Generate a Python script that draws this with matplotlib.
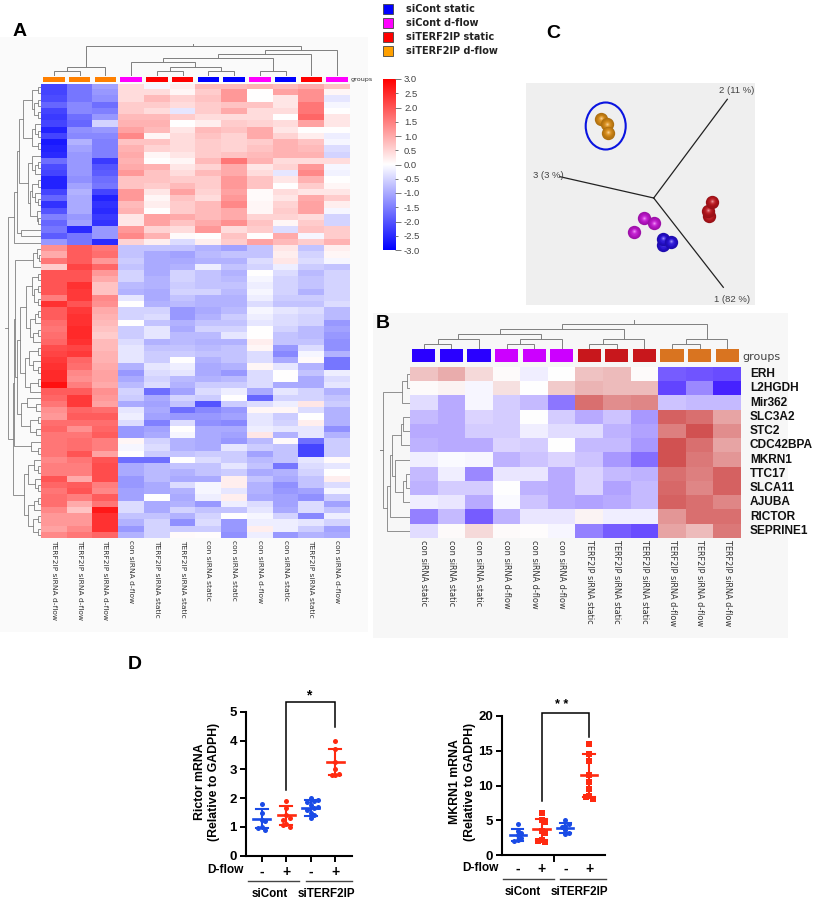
import matplotlib
matplotlib.use("Agg")
import matplotlib.pyplot as plt
import numpy as np
from matplotlib.colors import LinearSegmentedColormap, to_rgb
from matplotlib.patches import Rectangle, Ellipse

plt.rcParams['font.family'] = ['Liberation Sans', 'DejaVu Sans']

# ---------- data ----------
legend_labels = ["siCont static", "siCont d-flow", "siTERF2IP static", "siTERF2IP d-flow"]
legend_colors = ["#0000ff", "#ff00ff", "#ff0000", "#ffa000"]

a_groups = ["o", "o", "o", "m", "r", "r", "b", "b", "m", "b", "r", "m"]
a_labels = ["TERF2IP siRNA d-flow"] * 3 + ["con siRNA d-flow"] + ["TERF2IP siRNA static"] * 2 + \
           ["con siRNA static"] * 2 + ["con siRNA d-flow", "con siRNA static", "TERF2IP siRNA static", "con siRNA d-flow"]
a_matrix = [
 [-2.2,-1.6,-1.1,.4,-.1,.2,.8,.8,.9,.8,1.0,.7],
 [-2.2,-1.6,-1.2,.4,.4,.1,.6,1.2,.0,1.1,1.3,.1],
 [-2.1,-1.6,-1.3,.4,.8,.5,.7,1.2,0,.3,1.3,-.3],
 [-1.8,-1.4,-1.7,.6,.6,.4,.6,.7,.7,.3,1.6,-.1],
 [-2.2,-1.4,-1.5,.6,.4,-.3,.6,1.0,.4,.4,1.6,0],
 [-2.3,-1.7,-1.2,.8,.8,.6,.4,.4,.4,.0,1.8,.3],
 [-2.2,-1.8,-.5,.9,.9,.0,.2,.6,.5,.4,1.1,.3],
 [-2.6,-1.3,-1.2,1.1,.8,.3,.8,.7,1.0,.3,0,.0],
 [-2.2,-1.4,-1.4,1.4,.1,.4,.7,.5,1.0,.5,.2,-.2],
 [-2.7,-.9,-1.5,.7,.7,.4,.6,.5,.6,.9,.7,-.1],
 [-2.6,-1.1,-1.5,.9,.5,.4,.6,.5,.7,.9,.8,-.4],
 [-2.5,-1.2,-1.5,1.0,.1,.3,.6,.7,.8,.9,.9,-.5],
 [-1.7,-1.2,-2.3,.9,0,.1,.8,1.6,.9,.4,.4,.4],
 [-2.1,-1.2,-2.0,1.0,.9,.3,.5,1.0,.3,.5,1.2,-.1],
 [-2.2,-1.2,-1.9,1.2,.7,.4,.8,1.0,.4,-.3,1.4,-.15],
 [-2.6,-1.3,-1.7,.7,.7,.6,.6,1.2,.7,.3,.9,0],
 [-2.6,-1.1,-1.6,.7,.6,.8,.6,1.2,.7,0,.6,.1],
 [-2.2,-.9,-2.2,1.2,.3,1.1,.5,1.1,.05,.4,.3,.3],
 [-1.8,-1,-2.6,1.2,.1,.7,.4,1.2,.05,.3,1,.6],
 [-2.4,-1,-2.4,.8,.2,.6,.8,1.4,.1,.5,1.1,.2],
 [-2.0,-1,-2.5,.9,0,.6,.8,1.0,.1,.6,1.1,-.1],
 [-1.5,-1.2,-2.3,.3,1.1,1,.8,1,.5,.5,.4,-.5],
 [-1.8,-1.1,-2.4,.3,1.1,.7,1.0,1.3,.7,.1,.6,-.5],
 [-1.6,-2.5,-1.2,1.2,.5,.4,1.2,.4,.6,-.4,.7,.6],
 [-1.9,-1.6,-1.2,1.4,.9,.05,.0,.7,0,1,-.1,.6],
 [-1.2,-1.6,-2.5,.5,.2,-.4,.2,.6,1.1,.8,.6,.9],
 [1.3,1.9,1.6,-.7,-.7,-.7,-.9,-1.1,-.7,.3,-.7,.2],
 [1.0,1.9,1.7,-.7,-1,-1.1,-.8,-.7,-.7,.2,-.5,.1],
 [1.6,1.9,1.2,-.6,-1,-1,-.9,-.9,-.4,.3,-.4,-.1],
 [.6,2.2,1.8,-.7,-1,-.9,-.2,-.7,-.5,-.2,-.6,-.7],
 [2.0,2.0,1.2,-.5,-1,-.5,-.7,-.9,0,-.4,-.8,-.5],
 [2.0,2.0,1.0,-.5,-.9,-.5,-.7,-.8,-.1,-.5,-.7,-.5],
 [2.0,2.4,.7,-.8,-.9,-.6,-.7,-.7,-.2,-.5,-.7,-.5],
 [2.0,2.3,.7,-.9,-1,-.5,-.5,-.8,-.1,-.5,-.9,-.5],
 [1.5,2.3,1.4,-.3,-1,-.7,-.9,-.9,-.2,-.6,-.6,-.5],
 [2.4,2.0,1.3,0,-.9,-.8,-.9,-.9,-.4,-.7,-.7,-.4],
 [1.9,2.3,1.0,-.5,-.5,-1.2,-1.0,-.8,-.1,-.3,-.4,-.8],
 [1.9,2.4,.9,-.5,-.4,-1.2,-.9,-.6,-.2,-.4,-.5,-.8],
 [1.7,2.4,.8,0,-.7,-.9,-.7,-.7,-.3,-.4,-.5,-1.2],
 [1.6,2.5,.7,-.6,-.3,-1.0,-.5,-.5,0,-.5,-.8,-1.1],
 [1.7,2.5,.6,-.6,-.3,-.8,-.8,-.3,0,-.7,-.8,-1.2],
 [1.8,2.4,.8,-.4,-.9,-.8,-.9,-.9,.2,-.7,-.7,-1.3],
 [2.1,2.2,.8,-.3,-.7,-.7,-.8,-.7,.1,-1.2,-.4,-1.3],
 [2.2,2.3,.9,-.3,-.6,-.6,-.7,-.7,-.4,-1.4,-.1,-.9],
 [2.3,1.8,.9,-.3,-.6,0,-.9,-.7,-.4,-1.0,.05,-1.6],
 [2.4,1.7,1.0,-.9,-.3,-.2,-1,-.9,.1,-.3,-.9,-1.6],
 [2.5,1.4,1.1,-1.2,-.4,-.3,-1,-1.2,-.4,0,-.7,-.2],
 [2.5,1.3,1.1,-1,-.5,-.8,-.9,-.8,-.4,0,-1,-.4],
 [2.8,1.5,1.0,-.8,-.4,-.9,-.6,-.6,-.4,-1,-1,-.3],
 [1.9,1.9,1.3,-.5,-1.7,-1.1,-.4,-.2,-1,-.3,-.5,-.9],
 [1.8,2.3,1.2,-.6,-1,-.5,-.6,0,-1.8,-.5,-.5,-.7],
 [1.6,2.3,1.1,-1,-1.1,-.7,-2,-.6,-.4,-.2,.3,-.6],
 [1.3,1.8,1.7,-.3,-1,-1.7,-1.4,-1.2,.1,.1,-.4,-.9],
 [1.2,1.9,1.9,-.2,-1.1,-1.2,-1.2,-1.1,-.3,-.6,0,-.9],
 [1.7,1.7,1.7,-.4,-1.5,-.4,-1.3,-1.4,-.3,-.5,.2,-.9],
 [1.8,1.3,1.8,-1.2,-1.1,0,-1,-1,-.2,-.3,-.3,-1.3],
 [1.6,1.6,1.9,-1.2,-1,-.1,-1,-1.1,.3,-.9,-.3,-.9],
 [1.6,1.7,1.5,.1,-.5,-.9,-1,-1.2,-.8,.05,-1.7,-.6],
 [1.6,1.7,1.5,-.1,-.4,-.9,-1,-.3,-.6,-.7,-2.2,-.6],
 [1.6,2.0,1.1,0,-.6,-.7,-.6,-.6,-1.1,-.7,-2.2,-.6],
 [1.4,1.6,2.0,-1.7,-1.7,0,-.4,-.6,-.8,-.7,-.3,.05],
 [1.5,1.5,2.1,-1,-.8,-.7,-.7,-.3,-.7,-1.6,-.4,-.3],
 [1.5,1.5,2.1,-1,-.8,-.9,-.7,-.6,-1,-.9,-.5,0],
 [2.0,1.0,2.1,-1.2,-.8,-1,-1,.2,-.7,-1,-.7,.2],
 [1.8,1.9,1.5,-1.2,-1,-.4,-.1,.2,-.9,-1.3,-.7,-.4],
 [1.6,2.0,1.4,-1.1,-1,-.9,-.1,-.3,-.9,-1.2,-1.1,-.1],
 [1.7,1.5,1.9,-1.1,0,-1,-.2,.2,-1,-1.1,-1.3,-.6],
 [1.7,1.0,1.6,-.4,-1,-.9,-1.2,-.2,-.4,-1.1,-.4,-1.1],
 [1.4,.7,2.7,-.4,-1,-.5,-.7,-.7,-.3,-1,-.4,-.7],
 [1.2,1.2,2.4,-.7,-.7,-.9,-.5,0,-.1,-.5,-1.4,-.2],
 [1.2,1.2,2.4,-.9,-.5,-1.3,-.4,-1.2,-.2,-.2,-.3,-.5],
 [1.1,1.4,2.4,-1.2,-.5,-.6,-.6,-1.2,.2,-.2,-.6,-1.1],
 [1.4,1.6,1.8,-.9,-.5,.05,.03,-1.3,-.2,-1.2,-.9,-1],
]

b_genes = ["ERH", "L2HGDH", "Mir362", "SLC3A2", "STC2", "CDC42BPA", "MKRN1", "TTC17", "SLCA11", "AJUBA", "RICTOR", "SEPRINE1"]
b_groups = ["b"] * 3 + ["m"] * 3 + ["r"] * 3 + ["o"] * 3
b_labels = ["con siRNA static"] * 3 + ["con siRNA d-flow"] * 3 + ["TERF2IP siRNA static"] * 3 + ["TERF2IP siRNA d-flow"] * 3
b_matrix = [
 [.8,1.1,.5,.05,-.2,0,.8,.9,.05,-1.9,-2,-2.1],
 [.05,.15,-.1,.4,0,.7,1.0,.9,.9,-2.2,-1.4,-2.6],
 [-.4,-1.0,-.1,-.6,-.8,-1.6,1.9,1.5,1.6,-.7,-.8,-.8],
 [-.8,-1,-.5,-.6,0,-.6,-1,-.7,-1.2,2.1,1.9,1.2],
 [-1,-1,-.6,-.6,-.2,-.4,-.4,-.9,-1.1,1.7,2.3,1.5],
 [-.9,-1,-1,-.5,-.6,0,-.8,-.8,-1.2,2.3,1.9,1.2],
 [-.2,-.05,-.1,-.9,-.7,-.5,-.7,-1.2,-1.7,2.3,1.8,1.4],
 [-.8,-.2,-1.4,-.3,-.3,-1,-.5,-.8,-.9,1.9,1.7,2.1],
 [-.9,-.6,-.6,0,-.9,-1,-.5,-1.1,-.8,2.0,1.6,2.1],
 [-.2,-.3,-1,-.05,-.7,-1,-1.1,-1,-.8,2.1,1.9,1.6],
 [-1.5,-.8,-1.9,-.9,-.3,-.3,.15,-.2,-.2,1.4,1.9,1.9],
 [-.4,.05,.5,.05,.03,-.1,-1.5,-1.9,-2.1,1.2,.9,1.8],
]

# dendrograms: (height in px, left child, right child), leaves are indices
a_col_tree = (30, (9, (5, 0, 1), 2),
              (26, (22, (18, (14, 3, (9, (5, 4, 5), (5, 6, 7))), (5, 8, 9)), 10), 11))
a_up_a = (9, (3, 0, 1), (7, (3, 2, 3), (3, 4, 5)))
a_up_b = (9, (6, (3, 7, 8), 6), (3, 9, 10))
a_up_c = (13, (9, 11, (6, (3, 12, 13), 14)),
          (11, (9, (3, 15, 16), (6, 17, (3, 18, 19))), (4, 20, (3, 21, 22))))
a_upper = (27, (24, (22, (18, a_up_a, a_up_b), a_up_c), (20, 23, 24)), 25)
a_l1 = (8, (4, 26, (2, 27, 28)), 29)
a_l2 = (15, (9, (3, 30, 31), (7, (3, 32, 33), (3, 34, 35))),
        (11, (6, (3, 36, 37), 38), (8, (3, 39, 40), 41)))
a_l3 = (16, (12, (3, 42, 43), (8, 44, (3, 45, 46))), (11, (3, 47, 48), 49))
a_l4 = (20, (14, 50, (5, 51, 52)), (11, (3, 53, 54), (5, 55, 56)))
a_l5 = (10, 57, (3, 58, 59))
a_l6 = (17, (13, (7, 60, (3, 61, 62)), (6, 63, (3, 64, 65))),
        (13, (7, (3, 66, 67), 68), (8, (3, 69, 70), (3, 71, 72))))
a_lower = (28, (27, (26, a_l1, (24, (21, a_l2, a_l3), a_l4)), a_l5), a_l6)
a_row_tree = (33, a_upper, a_lower)

b_col_tree = (25, (20, (15, (10, (5, 0, 1), 2), (10, (5, 3, 4), 5)), (10, (5, 6, 7), 8)),
              (10, (5, 9, 10), 11))
b_row_tree = (27, (8, (3, 0, 1), 2),
              (23, (20, (18, (9, (7, 3, 4), 5), (15, 6, (7, (4, 7, 8), 9))), 10), 11))

cbar_ticks = [-3.0, -2.5, -2.0, -1.5, -1.0, -0.5, 0.0, 0.5, 1.0, 1.5, 2.0, 2.5, 3.0]

pca_names = ["siTERF2IP d-flow", "siTERF2IP static", "siCont d-flow", "siCont static"]
pca_x = [[600.7, 607.3, 608.3], [708.7, 708.0, 711.7], [634.3, 643.7, 653.7], [663.0, 662.7, 670.7]]
pca_y = [[119.0, 124.3, 132.7], [216.0, 210.7, 201.7], [232.0, 218.3, 223.3], [245.0, 239.0, 242.0]]
pca_colors = ["#f09a18", "#d01820", "#d818e8", "#2a10f0"]
pca_axes = {"1 (82 %)": (723.3, 287.3), "2 (11 %)": (727.3, 99.3), "3 (3 %)": (560.0, 176.7)}
pca_origin = (653.7, 198.0)

cond_labels = ["-", "+", "-", "+"]
rictor_pts = [[1.8, 1.5, 1.25, 1.2, 1.0, 0.9, 0.95],
              [1.9, 1.65, 1.4, 1.3, 1.25, 1.1, 1.0, 1.05],
              [2.0, 1.9, 1.85, 1.75, 1.65, 1.6, 1.5, 1.4, 1.3, 1.95, 1.7],
              [4.0, 3.7, 3.25, 3.0, 2.85, 2.8, 2.8]]
rictor_mean = [1.28, 1.4, 1.65, 3.25]
rictor_sd = [0.33, 0.32, 0.27, 0.45]
mkrn_pts = [[4.5, 3.5, 3.2, 2.9, 2.5, 2.1, 2.0],
            [6, 5, 4.8, 3.5, 3.2, 2.2, 1.8, 2],
            [5, 4.5, 4.2, 4, 3.6, 3.2, 3.0],
            [16, 14.5, 13.5, 11.5, 10.5, 9.5, 8.5, 8, 8.3]]
mkrn_mean = [2.9, 3.7, 3.9, 11.5]
mkrn_sd = [0.9, 1.5, 0.75, 3.1]

# ---------- helpers ----------
W, H = 815, 900
fig = plt.figure(figsize=(W / 100, H / 100), dpi=100, facecolor="white")


def px_axes(x0, y0, x1, y1, z=2):
    ax = fig.add_axes([x0 / W, 1 - y1 / H, (x1 - x0) / W, (y1 - y0) / H], zorder=z)
    ax.patch.set_alpha(0)
    return ax


ov = px_axes(0, 0, W, H, z=1)
ov.set_xlim(0, W)
ov.set_ylim(H, 0)
ov.axis("off")
top = px_axes(0, 0, W, H, z=6)
top.set_xlim(0, W)
top.set_ylim(H, 0)
top.axis("off")

ov.add_patch(Rectangle((0, 37), 368, 595, fc="#fafafa", ec="none"))
ov.add_patch(Rectangle((373, 313), 415, 325, fc="#f7f7f7", ec="none"))
ov.add_patch(Rectangle((526, 83), 229, 222, fc="#efefef", ec="none"))


def draw_tree(ax, node, horizontal_root=False):
    """Returns leaf-axis position; draws links; height goes along the other axis."""
    if not isinstance(node, tuple):
        return node, 0
    h, l, r = node
    pl, hl = draw_tree(ax, l, horizontal_root)
    pr, hr = draw_tree(ax, r, horizontal_root)
    xs, ys = [pl, pl, pr, pr], [hl, h, h, hr]
    if horizontal_root:
        ax.plot(ys, xs, color="#7f7f7f", lw=0.6, solid_joinstyle="miter")
    else:
        ax.plot(xs, ys, color="#7f7f7f", lw=0.7, solid_joinstyle="miter")
    return (pl + pr) / 2, h


def heat(box, matrix, cmap):
    ax = px_axes(*box)
    ax.imshow(np.array(matrix), cmap=cmap, vmin=-3, vmax=3, aspect="auto", interpolation="nearest")
    ax.axis("off")
    return ax


def group_bar(x0, x1, y0, y1, groups, palette, width):
    ax = px_axes(x0, y0, x1, y1)
    ax.bar(range(len(groups)), [1] * len(groups), width=width, color=[palette[g] for g in groups], align="center")
    ax.set_xlim(-.5, len(groups) - .5)
    ax.set_ylim(0, 1)
    ax.axis("off")


def col_labels(x0, x1, y, labels, size):
    step = (x1 - x0) / len(labels)
    for i, t in enumerate(labels):
        top.text(x0 + step * (i + .5), y, t, rotation=270, ha="center", va="top",
                 fontsize=size, color="#333333", family="DejaVu Sans")


# ---------- panel A ----------
cmap_a = LinearSegmentedColormap.from_list("a", ["#0000ff", "#ffffff", "#ff0000"])
heat((41, 84, 350, 538), a_matrix, cmap_a)
group_bar(41, 350, 76.5, 82, a_groups, {"o": "#ff8000", "m": "#ff00ff", "r": "#ff0000", "b": "#0000ff"}, .84)
ax = px_axes(41, 44, 350, 76)
root_x = draw_tree(ax, a_col_tree)[0]
ax.plot([root_x, root_x], [30, 33], color="#7f7f7f", lw=.7)
ax.set_xlim(-.5, 11.5); ax.set_ylim(0, 32); ax.axis("off")
ax = px_axes(5, 84, 41, 538)
rp = draw_tree(ax, a_row_tree, True)[0]
ax.plot([33, 36], [rp, rp], color="#7f7f7f", lw=.6)
ax.set_ylim(72.5, -.5); ax.set_xlim(36, 0); ax.axis("off")
top.text(351, 80, "groups", fontsize=4.6, va="center", color="#333333", family="DejaVu Sans")
col_labels(41, 350, 540, a_labels, 5.4)

# ---------- colour bar ----------
cb = px_axes(382.5, 79, 395, 250)
cb.imshow(np.linspace(3, -3, 256).reshape(-1, 1), cmap=cmap_a, vmin=-3, vmax=3, aspect="auto", extent=[0, 1, -3, 3])
cb.set_xticks([])
cb.yaxis.tick_right()
cb.set_yticks(cbar_ticks)
cb.set_yticklabels([f"{t:.1f}" for t in cbar_ticks], fontsize=6.8, color="#444444")
cb.tick_params(axis="y", length=4, width=.7, color="#777777", pad=2.5)
for tick, val in zip(cb.yaxis.get_major_ticks(), cbar_ticks):
    if abs(val) % 1 == .5:
        tick.tick2line.set_markersize(1.8)
for s in cb.spines.values():
    s.set_visible(False)

# ---------- legend ----------
for i, (lab, col) in enumerate(zip(legend_labels, legend_colors)):
    yc = 8.5 + 14 * i
    top.add_patch(Rectangle((382.5, yc - 5), 10.5, 10.5, fc=col, ec="#444444", lw=.6))
    top.text(406, yc + .5, lab, fontsize=7.05, fontweight="bold", va="center", color="#222222", family="DejaVu Sans")

# ---------- panel letters ----------
for t, x, y in [("A", 13, 31.5), ("C", 546, 33.5), ("B", 376, 323), ("D", 128, 664.5)]:
    top.text(x, y, t, fontsize=14, fontweight="bold", va="center", ha="left", color="black")

# ---------- panel C ----------
pc = px_axes(526, 83, 755, 305, z=3)
pc.set_xlim(526, 755); pc.set_ylim(305, 83); pc.axis("off")
for (name, end) in pca_axes.items():
    pc.plot([pca_origin[0], end[0]], [pca_origin[1], end[1]], color="#222222", lw=.9)
pc.text(719, 90.5, "2 (11 %)", fontsize=6.8, color="#444444", va="center")
pc.text(714.5, 300, "1 (82 %)", fontsize=6.8, color="#444444", va="center")
pc.text(533, 176, "3 (3 %)", fontsize=6.8, color="#444444", va="center")
pc.add_patch(Ellipse((605.7, 126), 40, 47, fc="none", ec="#0a14e0", lw=1.5))
for xs, ys, col, nm in zip(pca_x, pca_y, pca_colors, pca_names):
    base = np.array(to_rgb(col))
    for xb, yb in zip(xs, ys):
        for k, f in enumerate(np.linspace(1, .12, 8)):
            shade = base * (.72 + .28 * k / 7) + (1 - base) * (.5 * (k / 7) ** 4)
            pc.scatter([xb], [yb - .8 * (1 - f)], s=92 * f ** 2, color=[shade], linewidths=0, zorder=3)


# ---------- panel B ----------
cmap_b = LinearSegmentedColormap.from_list("b", ["#2a00ff", "#ffffff", "#c41e1e"])
heat((410, 367, 741, 538), b_matrix, cmap_b)
group_bar(410, 741, 349, 362, b_groups, {"o": "#d97420", "m": "#cc00ff", "r": "#c8171c", "b": "#2a00ff"}, .84)
ax = px_axes(410, 320, 741, 349)
rx = draw_tree(ax, b_col_tree)[0]
ax.plot([rx, rx], [25, 29], color="#7f7f7f", lw=.7)
ax.set_xlim(-.5, 11.5); ax.set_ylim(0, 29); ax.axis("off")
ax = px_axes(380, 367, 410, 538)
ry = draw_tree(ax, b_row_tree, True)[0]
ax.plot([27, 30], [ry, ry], color="#7f7f7f", lw=.7)
ax.set_ylim(11.5, -.5); ax.set_xlim(30, 0); ax.axis("off")
for i, g in enumerate(b_genes):
    top.text(750, 367 + (i + .5) * 14.25, g, fontsize=8.6, fontweight="bold", va="center", color="#111111")
top.text(742, 357, "groups", fontsize=8, va="center", color="#444444", family="DejaVu Sans")
col_labels(410, 741, 540, b_labels, 5.85)


# ---------- panel D ----------
def swarm(vals, d, step):
    placed, out = [], []
    for v in vals:
        k = 0
        while True:
            off = ((k + 1) // 2) * step * (1 if k % 2 else -1)
            if all((v - pv) ** 2 / d ** 2 + (off - po) ** 2 / (step * 1.0) ** 2 >= 1 for pv, po in placed):
                break
            k += 1
        placed.append((v, off)); out.append(off)
    return out


def dot_plot(box, pts, means, sds, ymax, yticks, markers, d, xlim, ticks):
    ax = px_axes(*box, z=4)
    colors = ["#1a4be6", "#ff2a10", "#1a4be6", "#ff2a10"]
    for i, vals in enumerate(pts):
        ax.scatter(i + np.array(swarm(vals, d, .15)), vals, s=13, color=colors[i], marker=markers[i], linewidths=0, zorder=3)
        ax.plot([i - .34, i + .34], [means[i]] * 2, color=colors[i], lw=1.9, zorder=4)
        ax.plot([i, i], [means[i] - sds[i], means[i] + sds[i]], color=colors[i], lw=1.5, zorder=4)
        for sgn in (-1, 1):
            ax.plot([i - .24, i + .24], [means[i] + sgn * sds[i]] * 2, color=colors[i], lw=1.5, zorder=4)
    ax.set_xlim(*xlim); ax.set_ylim(0, ymax)
    ax.set_yticks(yticks)
    ax.set_yticklabels([str(t) for t in yticks], fontsize=9.5, fontweight="bold")
    ax.set_xticks(range(4))
    ax.set_xticklabels(cond_labels, fontsize=10, fontweight="bold")
    ax.tick_params(axis="y", length=4.5, width=1.4, pad=2)
    ax.tick_params(axis="x", length=4.5 if ticks else 0, width=1.4, pad=2 if ticks else 5)
    for s in ("top", "right"):
        ax.spines[s].set_visible(False)
    for s in ("left", "bottom"):
        ax.spines[s].set_linewidth(1.5)
    return ax


a1 = dot_plot((246, 711.7, 351.7, 855.7), rictor_pts, rictor_mean, rictor_sd, 5, [0, 1, 2, 3, 4, 5],
              ["o"] * 4, .17, (-.64, 3.67), True)
a2 = dot_plot((502.3, 716, 605, 855), mkrn_pts, mkrn_mean, mkrn_sd, 20, [0, 5, 10, 15, 20],
              ["o", "s", "o", "s"], .6, (-.65, 3.67), False)


def bracket(x0, y0, x1, y1, yt):
    top.plot([x0, x0, x1, x1], [y0, yt, yt, y1], color="black", lw=1.1, solid_joinstyle="miter")


bracket(286, 790, 335.3, 726.7, 701.7)
top.text(309, 695, "*", fontsize=10, fontweight="bold", ha="center", va="center")
bracket(542, 800.7, 589.3, 737.3, 712.7)
top.text(562, 705, "* *", fontsize=9, fontweight="bold", ha="center", va="center")
top.plot([553.5, 553.5], [855, 861], color="black", lw=1.4)

for x, yc, l1 in [(207, 782, "Rictor mRNA\n(Relative to GADPH)"), (462.5, 782, "MKRN1 mRNA\n(Relative to GADPH)")]:
    top.text(x, yc, l1, rotation=90, fontsize=8.8, fontweight="bold", ha="center", va="center", linespacing=1.3, multialignment="center")

for x, y in [(225, 870), (480, 868)]:
    top.text(x, y, "D-flow", fontsize=8.6, fontweight="bold", ha="center", va="center")
for x0, x1, y in [(248, 299, 881), (305.7, 351.7, 881), (503, 554, 879), (560, 606, 879)]:
    top.plot([x0, x1], [y, y], color="#444444", lw=1)
for x, y, t in [(270, 894, "siCont"), (326, 894, "siTERF2IP"), (522.7, 892, "siCont"), (579, 892, "siTERF2IP")]:
    top.text(x, y, t, fontsize=8.4, fontweight="bold", ha="center", va="center")

fig.savefig("out.png", dpi=100)
